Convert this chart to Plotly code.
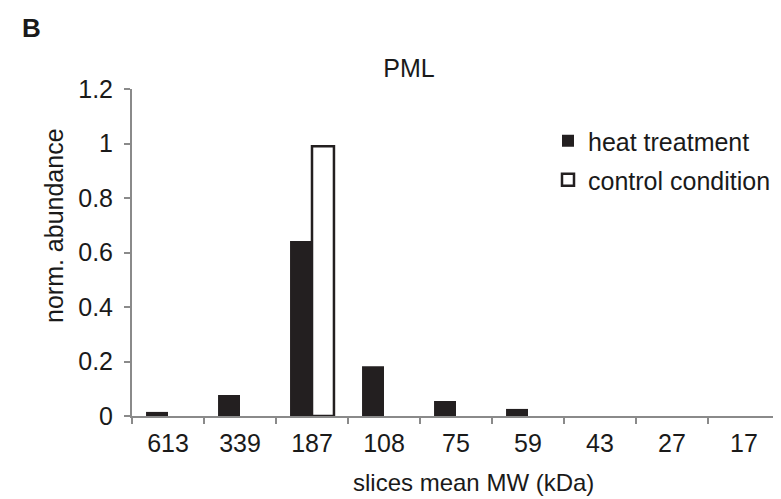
import plotly.graph_objects as go

categories = ["613", "339", "187", "108", "75", "59", "43", "27", "17"]
heat_treatment = [0.015, 0.077, 0.642, 0.183, 0.055, 0.026, 0, 0, 0]
control_condition = [None, None, 0.99, None, None, None, None, None, None]
y_ticks = [0, 0.2, 0.4, 0.6, 0.8, 1, 1.2]
y_tick_text = ["0", "0.2", "0.4", "0.6", "0.8", "1", "1.2"]

font = "Liberation Sans, Arial, sans-serif"
txt = "#1a1a1a"
axis_color = "#8a8a8a"
fs = 25

# plot area in pixels (for placing free text)
L, R, T, B = 124, 772, 81, 408
def px(x):
    return (x - L) / (R - L)
def py(y):
    return (B - y) / (B - T)

fig = go.Figure()
fig.add_trace(go.Bar(x=categories, y=heat_treatment, name="heat treatment",
                     legend="legend",
                     marker=dict(color="#231f20", line=dict(width=0))))
fig.add_trace(go.Bar(x=categories, y=control_condition, name="control condition",
                     legend="legend2",
                     marker=dict(color="white", line=dict(color="#231f20", width=2.5))))

leg_common = dict(xanchor="left", yanchor="middle", font=dict(size=fs, color=txt, family=font),
                  bgcolor="rgba(0,0,0,0)", itemwidth=30, borderwidth=0)
fig.update_layout(
    width=781, height=499,
    margin=dict(l=L, r=781 - R, t=T, b=499 - B),
    paper_bgcolor="white", plot_bgcolor="white",
    barmode="group", bargap=0.39, bargroupgap=0,
    font=dict(family=font, size=fs, color=txt),
    showlegend=True,
    legend=dict(x=px(540), y=py(133), **leg_common),
    legend2=dict(x=px(540), y=py(172), **leg_common),
    title=dict(text="PML", x=401 / 781, xanchor="center", y=1 - 60 / 499,
               yanchor="middle", font=dict(size=fs, color=txt, family=font)),
    xaxis=dict(type="category", showline=True, linecolor=axis_color, linewidth=2,
               ticks="outside", tickson="boundaries", tickcolor=axis_color,
               ticklen=6, tickwidth=2, showgrid=False, zeroline=False,
               tickfont=dict(size=fs), ticklabelstandoff=4, range=[-0.5, 8.5]),
    yaxis=dict(range=[0, 1.2], showline=True, linecolor=axis_color,
               linewidth=2, ticks="outside", tickcolor=axis_color, ticklen=6,
               tickwidth=2, showgrid=False, zeroline=False,
               tickvals=y_ticks, ticktext=y_tick_text,
               tickfont=dict(size=fs), ticklabelstandoff=6),
)
fig.add_annotation(text="norm. abundance", x=px(46), y=py(218), xref="paper", yref="paper",
                   textangle=-90, xanchor="center", yanchor="middle", showarrow=False,
                   font=dict(size=fs, color=txt, family=font))
fig.add_annotation(text="slices mean MW (kDa)", x=px(465), y=py(474), xref="paper", yref="paper",
                   xanchor="center", yanchor="middle", showarrow=False,
                   font=dict(size=24, color=txt, family=font))
fig.add_annotation(text="<b>B</b>", x=px(12), y=py(20), xref="paper", yref="paper",
                   xanchor="left", yanchor="middle", showarrow=False,
                   font=dict(size=26, color=txt, family=font))
fig.write_html("out.html")
